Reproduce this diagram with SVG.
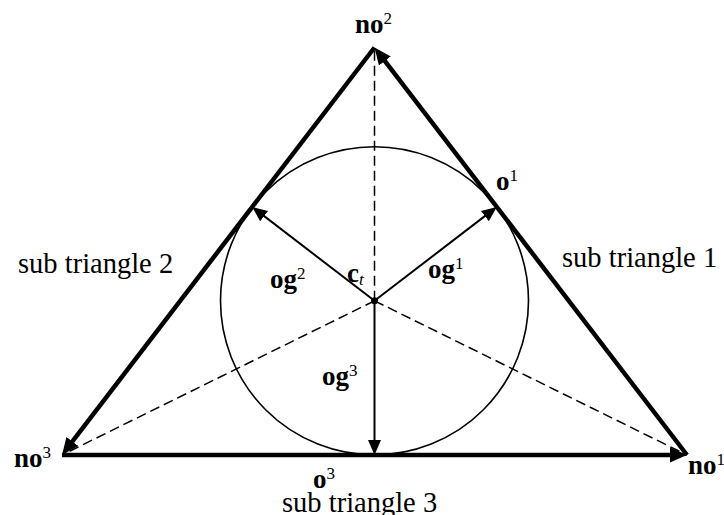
<svg xmlns="http://www.w3.org/2000/svg" width="724" height="515" viewBox="0 0 724 515">
<style>
  .edge { stroke:#000; stroke-width:4.5; fill:none; marker-end:url(#bigArrow); }
  .vec { stroke:#000; stroke-width:2; fill:none; marker-end:url(#smallArrow); }
  .dash { stroke:#000; stroke-width:1.5; fill:none; stroke-dasharray:10 5; }
  .circ { stroke:#000; stroke-width:1.6; fill:none; }
  text { font-family:"Liberation Serif","Times New Roman",serif; fill:#000; }
  .lbl { font-size:27px; font-weight:bold; }
  .sup { font-size:17px; font-weight:normal; }
  .reg { font-size:28.5px; }
</style>
<defs>
  <marker id="bigArrow" markerUnits="userSpaceOnUse" markerWidth="20" markerHeight="18" viewBox="0 -9 20 18" refX="9" refY="0" orient="auto">
    <path d="M0,-7.5 L17,0 L0,7.5 z" fill="#000"/>
  </marker>
  <marker id="smallArrow" markerUnits="userSpaceOnUse" markerWidth="18" markerHeight="16" viewBox="0 -8 18 16" refX="11" refY="0" orient="auto">
    <path d="M0,-6.5 L15,0 L0,6.5 z" fill="#000"/>
  </marker>
</defs>
<g id="connectors">
  <line class="dash" x1="374.5" y1="300.8" x2="374.5" y2="48"/>
  <line class="dash" x1="374.5" y1="300.8" x2="62" y2="455"/>
  <line class="dash" x1="374.5" y1="300.8" x2="687" y2="455"/>
  <line class="edge" x1="62" y1="455" x2="679" y2="455"/>
  <line class="edge" x1="687" y1="455" x2="379.4" y2="53.8"/>
  <line class="edge" x1="374.5" y1="47.5" x2="66.9" y2="448.6"/>
  <line class="vec" x1="374.5" y1="300.8" x2="493.6" y2="209.4"/>
  <line class="vec" x1="374.5" y1="300.8" x2="255.4" y2="209.4"/>
  <line class="vec" x1="374.5" y1="300.8" x2="374.5" y2="451"/>
</g>
<g id="incircle">
  <circle class="circ" cx="374.5" cy="300.8" r="154"/>
</g>
<g id="ct">
  <circle cx="374.5" cy="300.8" r="3.5" fill="#000"/>
  <text class="lbl" x="347" y="282">c<tspan style="font-size:17px;font-weight:normal;font-style:italic" dy="3">t</tspan></text>
</g>
<g id="no2"><text class="lbl" x="355" y="33">no<tspan class="sup" dy="-9">2</tspan></text></g>
<g id="no3"><text class="lbl" x="14" y="467">no<tspan class="sup" dy="-9">3</tspan></text></g>
<g id="no1"><text class="lbl" x="688" y="474">no<tspan class="sup" dy="-9">1</tspan></text></g>
<g id="o1"><text class="lbl" x="496" y="190">o<tspan class="sup" dy="-9">1</tspan></text></g>
<g id="o3"><text class="lbl" x="313" y="488">o<tspan class="sup" dy="-9">3</tspan></text></g>
<g id="og1"><text class="lbl" x="428" y="278">og<tspan class="sup" dy="-9">1</tspan></text></g>
<g id="og2"><text class="lbl" x="270" y="288">og<tspan class="sup" dy="-9">2</tspan></text></g>
<g id="og3"><text class="lbl" x="322" y="385">og<tspan class="sup" dy="-9">3</tspan></text></g>
<g id="sub1"><text class="reg" x="562" y="267">sub triangle 1</text></g>
<g id="sub2"><text class="reg" x="18" y="273">sub triangle 2</text></g>
<g id="sub3"><text class="reg" x="282" y="512">sub triangle 3</text></g>
</svg>
